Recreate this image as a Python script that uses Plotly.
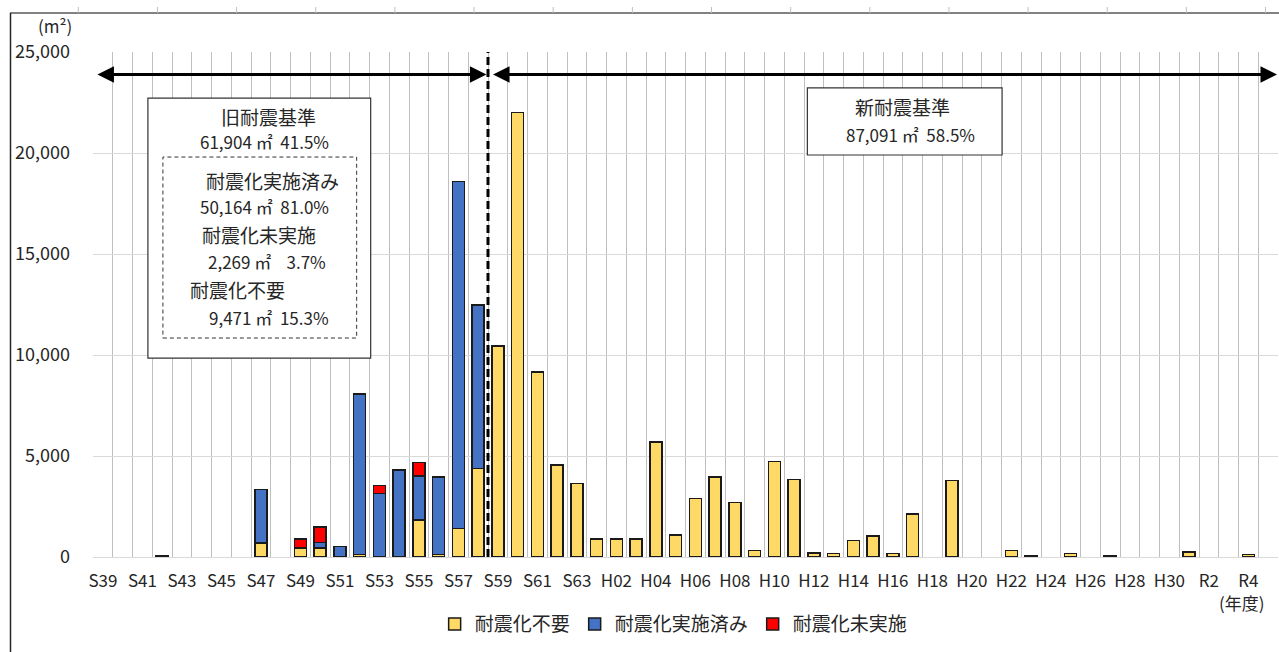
import plotly.graph_objects as go

# 年度（S39〜R5）
categories = [
    "S39", "S40", "S41", "S42", "S43", "S44", "S45", "S46", "S47", "S48",
    "S49", "S50", "S51", "S52", "S53", "S54", "S55", "S56", "S57", "S58",
    "S59", "S60", "S61", "S62", "S63", "H01", "H02", "H03", "H04", "H05",
    "H06", "H07", "H08", "H09", "H10", "H11", "H12", "H13", "H14", "H15",
    "H16", "H17", "H18", "H19", "H20", "H21", "H22", "H23", "H24", "H25",
    "H26", "H27", "H28", "H29", "H30", "R1", "R2", "R3", "R4", "R5",
]

# 延床面積（㎡）
fuyou = [  # 耐震化不要
    None, None, None, 41, None, None, None, None, 690, None,
    440, 440, None, 130, None, None, 1820, 130, 1400, 4380,
    10450, 22000, 9150, 4556, 3650, 891, 891, 891, 5690, 1089,
    2891, 3967, 2693, 317, 4740, 3846, 198, 183, 827, 1040,
    183, 2129, None, 3797, None, None, 317, 70, None, 183,
    None, 70, None, None, None, 248, None, None, 134, None,
]
jisshi = [  # 耐震化実施済み
    None, None, None, None, None, None, None, None, 2660, None,
    None, 270, 530, 7944, 3140, 4310, 2190, 3840, 17180, 8100,
] + [None] * 40
mijisshi = [  # 耐震化未実施
    None, None, None, None, None, None, None, None, None, None,
    440, 770, None, None, 399, None, 660, None, None, None,
] + [None] * 40

tick_labels = categories[::2]

series = [
    ("耐震化不要", fuyou, "#FFD966"),
    ("耐震化実施済み", jisshi, "#4472C4"),
    ("耐震化未実施", mijisshi, "#FF0000"),
]

FONT = "Noto Sans CJK JP"
TXT = "#262626"

idx = list(range(len(categories)))
fig = go.Figure()
for name, vals, color in series:
    fig.add_trace(go.Bar(
        x=idx, y=vals, name=name, width=0.6,
        marker=dict(color=color, line=dict(color="#1a1a1a", width=1.5)),
    ))

fig.update_layout(
    width=1279, height=652,
    margin=dict(l=93, r=1, t=52, b=95),
    barmode="stack",
    plot_bgcolor="white", paper_bgcolor="white",
    font=dict(family=FONT, color=TXT, size=16),
    legend=dict(orientation="h", x=0.49, xanchor="center", y=-0.133,
                yanchor="middle", font=dict(size=19), traceorder="normal",
                itemclick=False),
    xaxis=dict(
        range=[-0.5, len(categories) - 0.5],
        tickvals=idx[::2], ticktext=tick_labels,
        showgrid=False, zeroline=False, showline=False, ticks="",
        tickfont=dict(size=17, color=TXT), ticklabelstandoff=12,
        minor=dict(tickmode="array",
                   tickvals=[i - 0.5 for i in range(len(categories) + 1)],
                   showgrid=True, gridcolor="#bfbfbf", gridwidth=1.3, ticks=""),
    ),
    yaxis=dict(
        range=[0, 25000], dtick=5000, tickformat=",",
        showgrid=True, gridcolor="#d9d9d9", gridwidth=1.3,
        zeroline=True, zerolinecolor="#d9d9d9", zerolinewidth=1.3,
        showline=False, ticks="",
        tickfont=dict(size=18, color=TXT), ticklabelstandoff=22,
    ),
)

# 旧耐震／新耐震の境界（S58とS59の間）
fig.add_shape(type="line", xref="x", yref="y", x0=19.5, x1=19.5, y0=0, y1=25000,
              line=dict(color="black", width=3, dash="8px,4px"))

# 期間を示す両矢印
for a, b in [(-0.35, 19.42), (19.68, 59.45)]:
    fig.add_annotation(x=b, y=23880, ax=a, ay=23880, xref="x", yref="y",
                       axref="x", ayref="y", text="", showarrow=True,
                       arrowhead=2, startarrowhead=2, arrowside="end+start",
                       arrowwidth=3, arrowsize=1.1, startarrowsize=1.1,
                       arrowcolor="black")

# 旧耐震基準の内訳ボックス
fig.add_shape(type="rect", xref="x", yref="y", x0=2.28, x1=13.56, y0=9850, y1=22720,
              line=dict(color="#333333", width=1.2), fillcolor="white")
fig.add_shape(type="rect", xref="x", yref="y", x0=3.04, x1=12.85, y0=10840, y1=19800,
              line=dict(color="#333333", width=1, dash="4px,3px"), fillcolor="rgba(0,0,0,0)")

old_lines = [
    ("旧耐震基準", 8.4, 21830, 19),
    ("61,904 ㎡  41.5%", 8.2, 20570, 17),
    ("耐震化実施済み", 8.6, 18650, 19),
    ("50,164 ㎡  81.0%", 8.2, 17360, 17),
    ("耐震化未実施", 7.9, 15960, 19),
    ("2,269 ㎡    3.7%", 8.3, 14640, 17),
    ("耐震化不要", 6.8, 13220, 19),
    ("9,471 ㎡  15.3%", 8.4, 11850, 17),
]
for t, x, y, s in old_lines:
    fig.add_annotation(x=x, y=y, xref="x", yref="y", text=t, showarrow=False,
                       xanchor="center", yanchor="middle",
                       font=dict(size=s, color=TXT))

# 新耐震基準ボックス
fig.add_shape(type="rect", xref="x", yref="y", x0=35.67, x1=45.53, y0=19900, y1=23220,
              line=dict(color="#333333", width=1.2), fillcolor="white")
fig.add_annotation(x=40.5, y=22290, xref="x", yref="y", text="新耐震基準",
                   showarrow=False, xanchor="center", yanchor="middle",
                   font=dict(size=19, color=TXT))
fig.add_annotation(x=40.9, y=20900, xref="x", yref="y", text="87,091 ㎡  58.5%",
                   showarrow=False, xanchor="center", yanchor="middle",
                   font=dict(size=17, color=TXT))

# 単位
fig.add_annotation(x=-0.032, y=1.0515, xref="paper", yref="paper",
                   text="(m²)", showarrow=False, xanchor="center", yanchor="middle",
                   font=dict(size=17, color=TXT))
fig.add_annotation(x=0.970, y=-0.091, xref="paper", yref="paper",
                   text="(年度)", showarrow=False, xanchor="center", yanchor="middle",
                   font=dict(size=17, color=TXT))

# 外枠
PW, PH = 1185.0, 505.0
def px_x(p):
    return (p - 93) / PW
def px_y(p):
    return (557 - p) / PH

fig.add_shape(type="line", xref="paper", yref="paper",
              x0=px_x(10), x1=px_x(1279), y0=px_y(13), y1=px_y(13),
              line=dict(color="#595959", width=1.5))
fig.add_shape(type="line", xref="paper", yref="paper",
              x0=px_x(10.5), x1=px_x(10.5), y0=px_y(13), y1=px_y(652),
              line=dict(color="#262626", width=1.5))
for k in range(16):
    xp = px_x(78.3 + 79.15 * k)
    fig.add_shape(type="line", xref="paper", yref="paper",
                  x0=xp, x1=xp, y0=px_y(13), y1=px_y(7),
                  line=dict(color="#bfbfbf", width=1))

fig.write_html("out.html")
